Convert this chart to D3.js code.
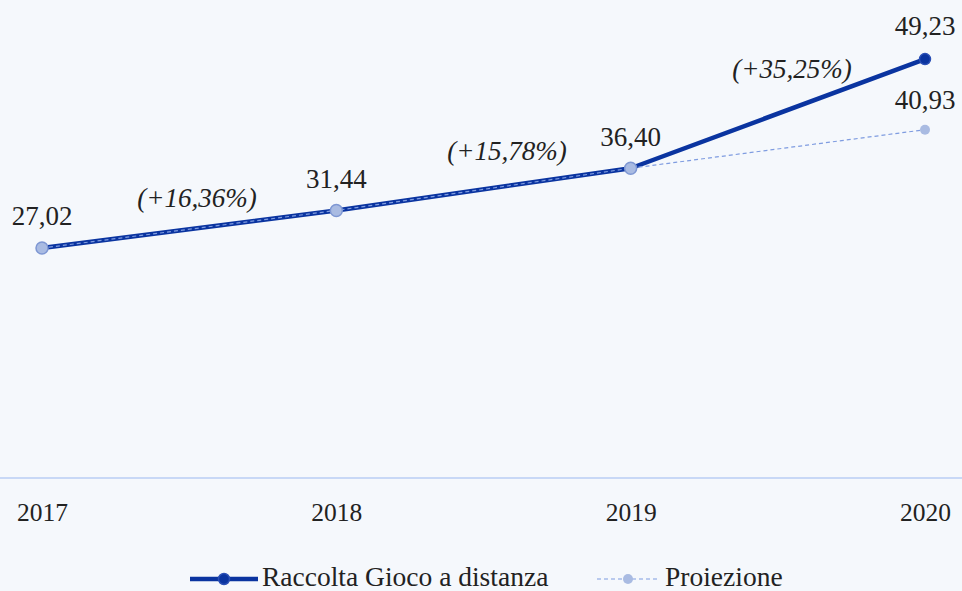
<!DOCTYPE html>
<html>
<head>
<meta charset="utf-8">
<script src="https://cdn.jsdelivr.net/npm/d3@7"></script>
<style>
  body { margin: 0; background: #f5f8fc; }
</style>
</head>
<body>
<div id="chart"></div>
<script>
// data
const years = ['2017', '2018', '2019', '2020'];
const raccolta = [27.02, 31.44, 36.40, 49.23];
const proiezione = [27.02, 31.44, 36.40, 40.93];
const growth = ['(+16,36%)', '(+15,78%)', '(+35,25%)'];

const fmt = v => v.toFixed(2).replace('.', ',');

const width = 962;
const height = 591;
const serif = 'Liberation Serif';

const svg = d3.select('#chart').append('svg')
    .attr('width', width)
    .attr('height', height)
    .attr('font-family', serif);

svg.append('rect')
    .attr('width', width)
    .attr('height', height)
    .attr('fill', '#f5f8fc');

const x = d3.scalePoint().domain(years).range([42, 925]);
const y = d3.scaleLinear().domain([0, 56.17]).range([478, 0]);

// x axis
const xAxis = svg.append('g')
    .attr('transform', 'translate(0, 478)')
    .call(d3.axisBottom(x).tickSize(0).tickPadding(25));
xAxis.attr('font-family', serif);
xAxis.select('.domain')
    .attr('d', `M0,0H${width}`)
    .attr('stroke', '#c8d8f6')
    .attr('stroke-width', 2);
xAxis.selectAll('text')
    .attr('font-family', serif)
    .attr('font-size', 25.5)
    .attr('fill', '#222');

const line = d3.line()
    .x((d, i) => x(years[i]))
    .y(d => y(d));

// main line
svg.append('path')
    .datum(raccolta)
    .attr('fill', 'none')
    .attr('stroke', '#0a34a0')
    .attr('stroke-width', 4.5)
    .attr('stroke-linejoin', 'round')
    .attr('d', line);

// projection line (dashed)
svg.append('path')
    .datum(proiezione)
    .attr('fill', 'none')
    .attr('stroke', '#7f9ce0')
    .attr('stroke-width', 1.2)
    .attr('stroke-dasharray', '4,3')
    .attr('d', line);

// markers
svg.append('circle')
    .attr('cx', x(years[3]))
    .attr('cy', y(raccolta[3]))
    .attr('r', 5.5)
    .attr('fill', '#0a34a0')
    .attr('stroke', '#2a4fb5')
    .attr('stroke-width', 1.5);

svg.selectAll('.pt')
    .data(proiezione)
    .join('circle')
    .attr('class', 'pt')
    .attr('cx', (d, i) => x(years[i]))
    .attr('cy', d => y(d))
    .attr('r', (d, i) => i === 3 ? 5 : 6)
    .attr('fill', '#a9bbe2')
    .attr('stroke', (d, i) => i === 3 ? 'none' : '#7e97d3')
    .attr('stroke-width', 1.5);

// value labels
const labelOffset = [23, 22, 22, 24];
svg.selectAll('.val')
    .data(raccolta)
    .join('text')
    .attr('class', 'val')
    .attr('x', (d, i) => x(years[i]))
    .attr('y', (d, i) => y(d) - labelOffset[i])
    .attr('text-anchor', 'middle')
    .attr('font-size', 27)
    .attr('fill', '#222')
    .text(d => fmt(d));

svg.append('text')
    .attr('x', x(years[3]))
    .attr('y', y(proiezione[3]) - 21)
    .attr('text-anchor', 'middle')
    .attr('font-size', 27)
    .attr('fill', '#222')
    .text(fmt(proiezione[3]));

// growth labels
const growthPos = [[197, 207], [507, 160], [792, 78]];
svg.selectAll('.growth')
    .data(growth)
    .join('text')
    .attr('class', 'growth')
    .attr('x', (d, i) => growthPos[i][0])
    .attr('y', (d, i) => growthPos[i][1])
    .attr('text-anchor', 'middle')
    .attr('font-size', 27)
    .attr('font-style', 'italic')
    .attr('fill', '#222')
    .text(d => d);

// legend
const legend = svg.append('g').attr('transform', 'translate(0, 579)');
legend.append('line')
    .attr('x1', 190).attr('x2', 258)
    .attr('stroke', '#0a34a0')
    .attr('stroke-width', 4.5);
legend.append('circle')
    .attr('cx', 224).attr('r', 5.5)
    .attr('fill', '#0a34a0')
    .attr('stroke', '#2a4fb5')
    .attr('stroke-width', 1.5);
legend.append('text')
    .attr('x', 262).attr('y', 7)
    .attr('font-size', 27.5)
    .attr('fill', '#222')
    .text('Raccolta Gioco a distanza');

legend.append('line')
    .attr('x1', 597).attr('x2', 660)
    .attr('stroke', '#7f9ce0')
    .attr('stroke-width', 1.2)
    .attr('stroke-dasharray', '4,3');
legend.append('circle')
    .attr('cx', 628).attr('r', 5)
    .attr('fill', '#a9bbe2');
legend.append('text')
    .attr('x', 665).attr('y', 7)
    .attr('font-size', 27.5)
    .attr('fill', '#222')
    .text('Proiezione');
</script>
</body>
</html>
